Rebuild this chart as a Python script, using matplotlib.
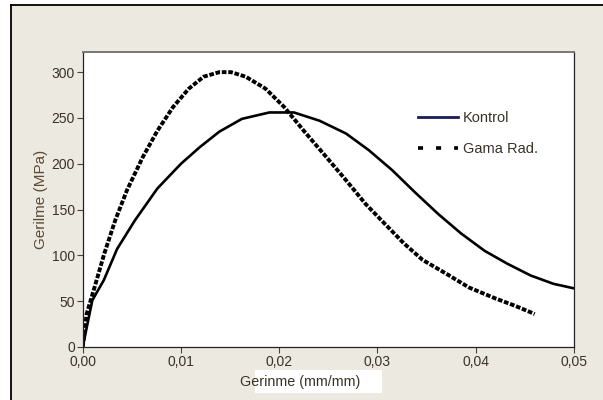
import numpy as np
import matplotlib
matplotlib.use('Agg')
import matplotlib.pyplot as plt
from matplotlib.lines import Line2D

plt.rcParams['font.family'] = ['Liberation Sans', 'DejaVu Sans']

# Kontrol (solid)
kontrol_x = [0.0, 0.00098, 0.00215, 0.0035, 0.0053, 0.0076, 0.0100, 0.0119, 0.0139,
             0.0162, 0.0190, 0.0215, 0.0241, 0.0268, 0.0291, 0.0315, 0.0338, 0.0362,
             0.0385, 0.0409, 0.0432, 0.0456, 0.0479, 0.0500]
kontrol_y = [0, 51, 73, 107, 138, 173, 200, 218, 235,
             249, 256, 256, 247, 233, 215, 193, 169, 145,
             124, 105, 91, 78, 69, 64]

# Gama Rad. (dashed)
gama_x = [0.0, 0.0004, 0.0012, 0.0022, 0.0033, 0.0045, 0.0061, 0.0076, 0.0092,
          0.0108, 0.0123, 0.0139, 0.0151, 0.0166, 0.0186, 0.0205, 0.0225, 0.0245,
          0.0268, 0.0288, 0.0307, 0.0327, 0.0346, 0.0370, 0.0393, 0.0420, 0.0440, 0.0460]
gama_y = [0, 36, 65, 102, 138, 171, 207, 236, 262,
          282, 295, 300, 300, 295, 282, 262, 236, 211,
          182, 156, 135, 113, 95, 80, 65, 53, 45, 36]

x_ticks = [0.0, 0.01, 0.02, 0.03, 0.04, 0.05]
x_labels = ['0,00', '0,01', '0,02', '0,03', '0,04', '0,05']
y_ticks = [0, 50, 100, 150, 200, 250, 300]

BG = '#ECE9E0'
TXT = '#3a3228'
W, H = 603, 400

fig = plt.figure(figsize=(6.03, 4.0), dpi=100)
fig.patch.set_facecolor('white')

# beige panel with black top/left border
panel = plt.Rectangle((11 / W, 0), 1 - 11 / W, 1 - 5 / H, transform=fig.transFigure,
                      facecolor=BG, edgecolor='none', zorder=-2)
fig.patches.append(panel)
fig.add_artist(Line2D([11 / W, 1], [1 - 5 / H, 1 - 5 / H], transform=fig.transFigure,
                      color='black', lw=1.3))
fig.add_artist(Line2D([11 / W, 11 / W], [0, 1 - 5 / H], transform=fig.transFigure,
                      color='black', lw=1.3))

ax = fig.add_axes([82.7 / W, 1 - 347 / H, (574 - 82.7) / W, (347 - 52) / H])
ax.set_facecolor('white')

ax.plot(kontrol_x, kontrol_y, color='black', lw=1.9, solid_capstyle='round')
ax.plot(gama_x, gama_y, color='black', lw=2.8, linestyle=(0, (1.2, 0.45)))

ax.set_xlim(0, 0.05)
ax.set_ylim(0, 322)
ax.set_xticks(x_ticks)
ax.set_xticklabels(x_labels)
ax.set_yticks(y_ticks)
ax.tick_params(axis='both', direction='out', length=4, width=0.8, colors='#444444',
               labelsize=10, labelcolor=TXT, pad=1.5)

for side in ['left', 'bottom', 'right']:
    ax.spines[side].set_color('#222222')
    ax.spines[side].set_linewidth(0.9)
ax.spines['top'].set_color('#777777')
ax.spines['top'].set_linewidth(1.4)

ax.set_ylabel('Gerilme (MPa)', fontsize=11, color='#5a4a38', labelpad=3)

# x label with offset white box behind it
fig.patches.append(plt.Rectangle((255 / W, 1 - 393 / H), 127 / W, 23 / H,
                                 transform=fig.transFigure, facecolor='white',
                                 edgecolor='none', zorder=-1))
fig.text(300 / W, 1 - 382 / H, 'Gerinme (mm/mm)', fontsize=10.3, color=TXT,
         ha='center', va='center')

handles = [Line2D([], [], color='#1c1c5c', lw=2.0),
           Line2D([], [], color='black', lw=2.6, linestyle=(0, (1.4, 3.6)))]
leg = ax.legend(handles, ['Kontrol', 'Gama Rad.'], loc='upper left',
                bbox_to_anchor=(0.655, 0.845), frameon=False, fontsize=10.5,
                handlelength=2.8, handletextpad=0.3, labelspacing=1.2)
for t in leg.get_texts():
    t.set_color(TXT)

fig.savefig('out.png', dpi=100, facecolor=fig.get_facecolor())
